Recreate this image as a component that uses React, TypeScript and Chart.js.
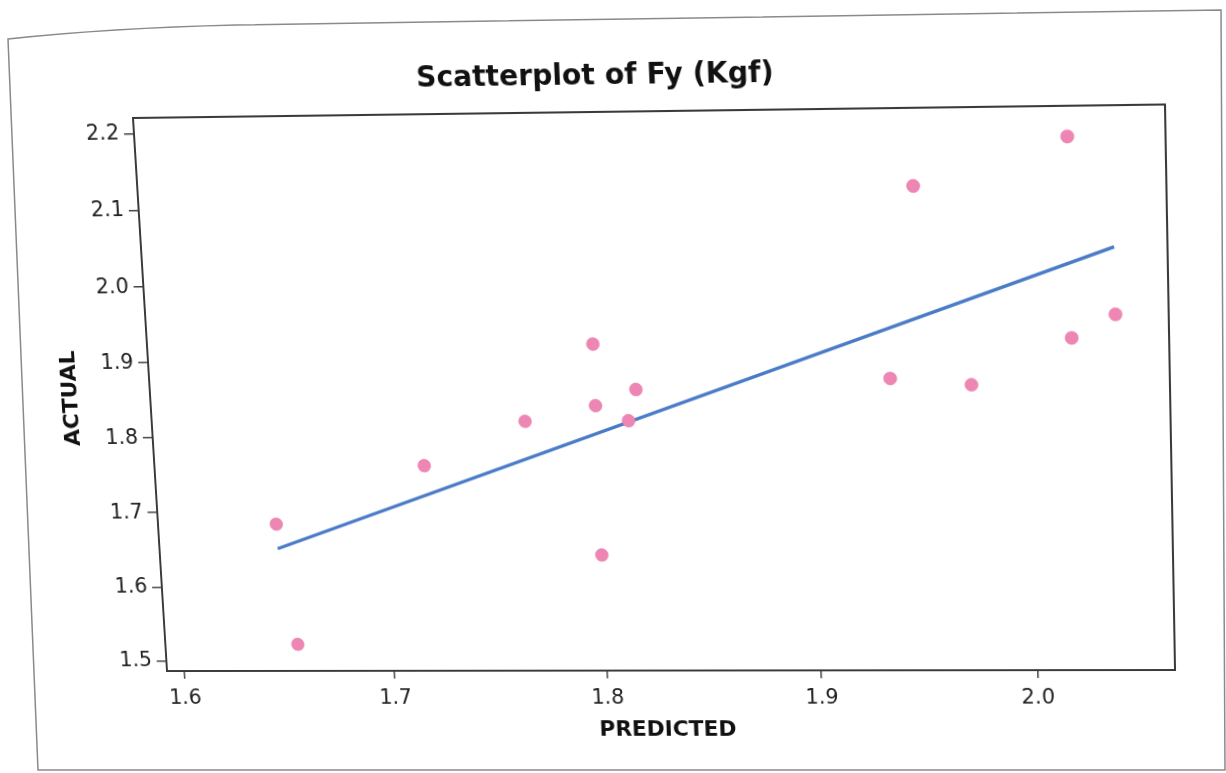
import React, { useEffect, useRef } from "react";
import { Chart, registerables } from "chart.js";

Chart.register(...registerables);

// Fitted-line plot data: predicted vs. actual Fy (Kgf)
const predicted = [1.648, 1.655, 1.719, 1.767, 1.8, 1.8, 1.8, 1.815, 1.819, 1.936, 1.949, 1.973, 2.019, 2.019, 2.039];
const actual = [1.684, 1.522, 1.761, 1.819, 1.92, 1.839, 1.641, 1.819, 1.86, 1.872, 2.121, 1.863, 2.182, 1.923, 1.953];

// Regression line end points
const fitX = [1.648, 2.039];
const fitY = [1.651, 2.04];

const xTicks = [1.6, 1.7, 1.8, 1.9, 2.0];
const yTicks = [1.5, 1.6, 1.7, 1.8, 1.9, 2.0, 2.1, 2.2];

const X_MIN = 1.592;
const X_MAX = 2.063;
const Y_MIN = 1.486;
const Y_MAX = 2.221;

const CANVAS_W = 1226;
const CANVAS_H = 773;
const SIDE_PAD = 56;
const AREA = { left: 150, top: 111, right: CANVAS_W - SIDE_PAD, bottom: 670 };

// Where the plot frame corners land on the page (TL, TR, BR, BL): slight perspective tilt
const FRAME_QUAD: [number, number][] = [
  [133, 118],
  [1165, 104.5],
  [1175, 670],
  [167, 671],
];

function perspectiveMatrix(): string {
  const [[x0, y0], [x1, y1], [x2, y2], [x3, y3]] = FRAME_QUAD;
  const dx1 = x1 - x2, dx2 = x3 - x2, dx3 = x0 - x1 + x2 - x3;
  const dy1 = y1 - y2, dy2 = y3 - y2, dy3 = y0 - y1 + y2 - y3;
  const den = dx1 * dy2 - dx2 * dy1;
  const g = (dx3 * dy2 - dx2 * dy3) / den;
  const h = (dx1 * dy3 - dx3 * dy1) / den;
  const a = x1 - x0 + g * x1, b = x3 - x0 + h * x3, c = x0;
  const d = y1 - y0 + g * y1, e = y3 - y0 + h * y3, f = y0;
  const W = AREA.right - AREA.left;
  const H = AREA.bottom - AREA.top;
  const A = a / W, B = b / H, C = c - (a * AREA.left) / W - (b * AREA.top) / H;
  const D = d / W, E = e / H, F = f - (d * AREA.left) / W - (e * AREA.top) / H;
  const G = g / W, Hh = h / H, I = 1 - (g * AREA.left) / W - (h * AREA.top) / H;
  return `matrix3d(${A},${D},0,${G},${B},${E},0,${Hh},0,0,1,0,${C},${F},0,${I})`;
}

// Closes the plot frame on the top and right sides
const frameBox = {
  id: "frameBox",
  afterDatasetsDraw(chart: any) {
    const { ctx, chartArea } = chart;
    ctx.save();
    ctx.strokeStyle = "#3a3a3a";
    ctx.lineWidth = 2;
    ctx.strokeRect(chartArea.left, chartArea.top, chartArea.right - chartArea.left, chartArea.bottom - chartArea.top);
    ctx.restore();
  },
};

const TEXT_FONT = "'DejaVu Sans', Verdana, sans-serif";

export default function App() {
  const canvasRef = useRef<HTMLCanvasElement | null>(null);

  useEffect(() => {
    const canvas = canvasRef.current;
    if (!canvas) return;
    const chart = new Chart(canvas, {
      type: "scatter",
      data: {
        datasets: [
          {
            type: "scatter",
            label: "Fy (Kgf)",
            data: predicted.map((x, i) => ({ x, y: actual[i] })),
            backgroundColor: "#ee86b4",
            borderColor: "#e97aab",
            borderWidth: 0.5,
            pointRadius: 6.5,
            order: 0,
          },
          {
            type: "line",
            label: "Fit",
            data: fitX.map((x, i) => ({ x, y: fitY[i] })),
            borderColor: "#4a7bc6",
            borderWidth: 3.4,
            pointRadius: 0,
            fill: false,
            order: 1,
          } as any,
        ],
      },
      plugins: [frameBox],
      options: {
        responsive: false,
        animation: false,
        layout: { padding: { left: SIDE_PAD, right: SIDE_PAD, top: 0, bottom: 0 } },
        plugins: {
          legend: { display: false },
          tooltip: { enabled: false },
          title: {
            display: true,
            text: "Scatterplot of Fy (Kgf)",
            color: "#111",
            font: { family: TEXT_FONT, size: 28, weight: "bold", lineHeight: 1.2 },
            padding: { top: 60, bottom: AREA.top - 60 - 28 * 1.2 },
          },
        },
        scales: {
          x: {
            type: "linear",
            min: X_MIN,
            max: X_MAX,
            afterBuildTicks: (scale: any) => {
              scale.ticks = xTicks.map((v) => ({ value: v }));
            },
            afterFit: (scale: any) => {
              scale.height = CANVAS_H - AREA.bottom;
            },
            ticks: {
              color: "#222",
              padding: 8,
              font: { family: TEXT_FONT, size: 21 },
              callback: (v: any) => Number(v).toFixed(1),
              maxRotation: 0,
              autoSkip: false,
            },
            grid: { drawOnChartArea: false, drawTicks: true, tickLength: 8, color: "#444", lineWidth: 1.5 },
            border: { display: true, color: "#3a3a3a", width: 2 },
            title: {
              display: true,
              text: "PREDICTED",
              color: "#111",
              font: { family: TEXT_FONT, size: 22, weight: "bold", lineHeight: 1.2 },
              padding: { top: 0, bottom: 29 },
            },
          },
          y: {
            type: "linear",
            min: Y_MIN,
            max: Y_MAX,
            afterBuildTicks: (scale: any) => {
              scale.ticks = yTicks.map((v) => ({ value: v }));
            },
            afterFit: (scale: any) => {
              scale.width = AREA.left - SIDE_PAD;
            },
            ticks: {
              color: "#222",
              padding: 5,
              font: { family: TEXT_FONT, size: 21 },
              callback: (v: any) => Number(v).toFixed(1),
              autoSkip: false,
            },
            grid: { drawOnChartArea: false, drawTicks: true, tickLength: 10, color: "#444", lineWidth: 1.5 },
            border: { display: true, color: "#3a3a3a", width: 2 },
            title: {
              display: true,
              text: "ACTUAL",
              color: "#111",
              font: { family: TEXT_FONT, size: 22, weight: "bold", lineHeight: 1.2 },
              padding: { top: 0, bottom: 0 },
            },
          },
        },
      },
    });
    return () => chart.destroy();
  }, []);

  return (
    <div style={{ position: "fixed", left: 0, top: 0, width: CANVAS_W, height: CANVAS_H, overflow: "hidden", background: "#fff" }}>
      <div
        style={{
          position: "absolute",
          left: 0,
          top: 0,
          width: CANVAS_W,
          height: CANVAS_H,
          transformOrigin: "0 0",
          transform: perspectiveMatrix(),
        }}
      >
        <canvas
          ref={canvasRef}
          width={CANVAS_W}
          height={CANVAS_H}
          style={{ display: "block", width: CANVAS_W, height: CANVAS_H }}
        />
      </div>
      <svg
        width={CANVAS_W}
        height={CANVAS_H}
        style={{ position: "absolute", left: 0, top: 0, pointerEvents: "none" }}
      >
        <path
          d="M 8 39 Q 110 28 236 25 L 1221 10 L 1225 770 L 38 770 Z"
          fill="none"
          stroke="#8a8a8a"
          strokeWidth={1.5}
        />
      </svg>
    </div>
  );
}
